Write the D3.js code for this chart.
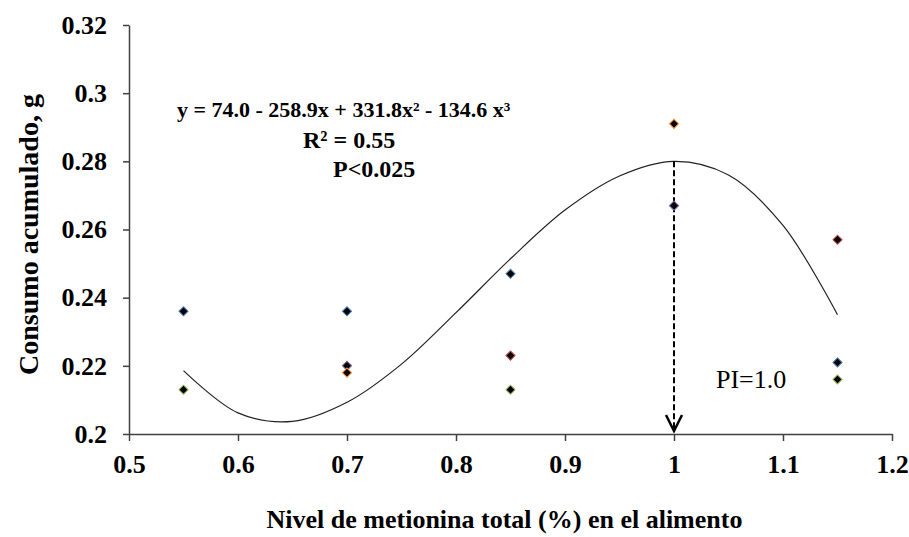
<!DOCTYPE html>
<html>
<head>
<meta charset="utf-8">
<script src="https://cdn.jsdelivr.net/npm/d3@7"></script>
<style>
  body { margin: 0; background: #fff; }
  svg text { font-family: 'Liberation Serif', 'DejaVu Serif', 'Times New Roman', serif; }
</style>
</head>
<body>
<div id="wrapper"></div>
<script>
'use strict';

const serifFont = "'Liberation Serif', 'DejaVu Serif', 'Times New Roman', serif";

// data - one array per series (Excel default colours)
const seriesNames = ['s1', 's2', 's3', 's4', 's5'];
const seriesColors = ['#4F81BD', '#C0504D', '#9BBB59', '#8064A2', '#F79646'];
const s1 = [[0.55, 0.236], [0.70, 0.236], [0.85, 0.247], [1.15, 0.221]];
const s2 = [[0.85, 0.223], [1.15, 0.257]];
const s3 = [[0.55, 0.213], [0.85, 0.213], [1.15, 0.216]];
const s4 = [[0.70, 0.220], [1.00, 0.267]];
const s5 = [[0.70, 0.218], [1.00, 0.291]];

// trend line
const trendX = [0.55, 0.60, 0.65, 0.70, 0.75, 0.80, 0.85, 0.90, 0.95, 1.00, 1.05, 1.10, 1.15];
const trendY = [0.2186, 0.2062, 0.2037, 0.2093, 0.2205, 0.2356, 0.2514, 0.2657, 0.2757, 0.2800, 0.2760, 0.2612, 0.2350];

const xTicks = [0.5, 0.6, 0.7, 0.8, 0.9, 1.0, 1.1, 1.2];
const xTickLabels = ['0.5', '0.6', '0.7', '0.8', '0.9', '1', '1.1', '1.2'];
const yTicks = [0.20, 0.22, 0.24, 0.26, 0.28, 0.30, 0.32];
const yTickLabels = ['0.2', '0.22', '0.24', '0.26', '0.28', '0.3', '0.32'];

const optimum = 1.0;
const optimumY = 0.280;

const xLabel = 'Nivel de metionina total (%) en el alimento';
const yLabel = 'Consumo acumulado, g';
const eqLines = ['y = 74.0 - 258.9x + 331.8x\u00B2 - 134.6 x\u00B3', 'R\u00B2 = 0.55', 'P<0.025'];
const piLabel = 'PI=1.0';

// plot dimensions
const dimensions = {
  width: 909,
  height: 537,
  margin: { top: 25, right: 17, bottom: 103, left: 129 },
};
dimensions.boundedWidth = dimensions.width - dimensions.margin.left - dimensions.margin.right;
dimensions.boundedHeight = dimensions.height - dimensions.margin.top - dimensions.margin.bottom;

const xScale = d3.scaleLinear()
  .domain([0.5, 1.2])
  .range([0, dimensions.boundedWidth]);

const yScale = d3.scaleLinear()
  .domain([0.2, 0.32])
  .range([dimensions.boundedHeight, 0]);

const wrapper = d3.select('#wrapper')
  .append('svg')
  .attr('width', dimensions.width)
  .attr('height', dimensions.height)
  .attr('font-family', serifFont);

const bounds = wrapper.append('g')
  .attr('transform', `translate(${dimensions.margin.left}, ${dimensions.margin.top})`);

// axes
const yAxis = bounds.append('g')
  .call(d3.axisLeft(yScale)
    .tickValues(yTicks)
    .tickFormat((d, i) => yTickLabels[i])
    .tickSizeInner(6)
    .tickSizeOuter(0)
    .tickPadding(16));

const xAxis = bounds.append('g')
  .attr('transform', `translate(0, ${dimensions.boundedHeight})`)
  .call(d3.axisBottom(xScale)
    .tickValues(xTicks)
    .tickFormat((d, i) => xTickLabels[i])
    .tickSizeInner(7)
    .tickSizeOuter(0)
    .tickPadding(14));

[xAxis, yAxis].forEach(ax => {
  ax.attr('font-family', serifFont);
  ax.select('.domain').attr('stroke', '#404040').attr('stroke-width', 1.5);
  ax.selectAll('.tick line').attr('stroke', '#404040').attr('stroke-width', 1.5);
  ax.selectAll('.tick text')
    .attr('fill', '#000')
    .attr('font-family', serifFont)
    .style('font-size', '26px')
    .style('font-weight', 'bold');
});

// trend line
const trendData = trendX.map((x, i) => [x, trendY[i]]);
const lineGenerator = d3.line()
  .x(d => xScale(d[0]))
  .y(d => yScale(d[1]))
  .curve(d3.curveCatmullRom);

bounds.append('path')
  .attr('d', lineGenerator(trendData))
  .attr('fill', 'none')
  .attr('stroke', '#222')
  .attr('stroke-width', 1.2);

// dashed arrow at the optimum
const arrowTip = yScale(0.2) - 3;
bounds.append('line')
  .attr('x1', xScale(optimum))
  .attr('x2', xScale(optimum))
  .attr('y1', yScale(optimumY))
  .attr('y2', arrowTip - 2)
  .attr('stroke', '#000')
  .attr('stroke-width', 2)
  .attr('stroke-dasharray', '6,3');

bounds.append('path')
  .attr('d', `M${xScale(optimum) - 8},${arrowTip - 16}L${xScale(optimum)},${arrowTip}L${xScale(optimum) + 8},${arrowTip - 16}`)
  .attr('fill', 'none')
  .attr('stroke', '#000')
  .attr('stroke-width', 2.5);

// scatter points - black diamonds with coloured edge
const diamond = d3.symbol(d3.symbolSquare, 42);
[s1, s2, s3, s4, s5].forEach((series, si) => {
  bounds.append('g')
    .attr('class', seriesNames[si])
    .selectAll('path')
    .data(series)
    .join('path')
    .attr('d', diamond)
    .attr('transform', d => `translate(${xScale(d[0])}, ${yScale(d[1])}) rotate(45)`)
    .attr('fill', '#000')
    .attr('stroke', seriesColors[si])
    .attr('stroke-width', 1);
});

// equation text
const eqPos = [[48, 92, 22], [174, 123, 24], [204, 152, 24]];
eqLines.forEach((t, i) => {
  bounds.append('text')
    .attr('x', eqPos[i][0])
    .attr('y', eqPos[i][1])
    .attr('font-family', serifFont)
    .style('font-size', eqPos[i][2] + 'px')
    .style('font-weight', 'bold')
    .text(t);
});

bounds.append('text')
  .attr('x', 587)
  .attr('y', 363)
  .attr('font-family', serifFont)
  .style('font-size', '26px')
  .text(piLabel);

// axis labels
wrapper.append('text')
  .attr('x', dimensions.margin.left + dimensions.boundedWidth / 2 - 6)
  .attr('y', 528)
  .attr('text-anchor', 'middle')
  .attr('font-family', serifFont)
  .style('font-size', '26px')
  .style('font-weight', 'bold')
  .text(xLabel);

wrapper.append('text')
  .attr('transform', `translate(38, ${dimensions.margin.top + dimensions.boundedHeight / 2 + 5}) rotate(-90)`)
  .attr('text-anchor', 'middle')
  .attr('font-family', serifFont)
  .style('font-size', '28px')
  .style('font-weight', 'bold')
  .text(yLabel);
</script>
</body>
</html>
